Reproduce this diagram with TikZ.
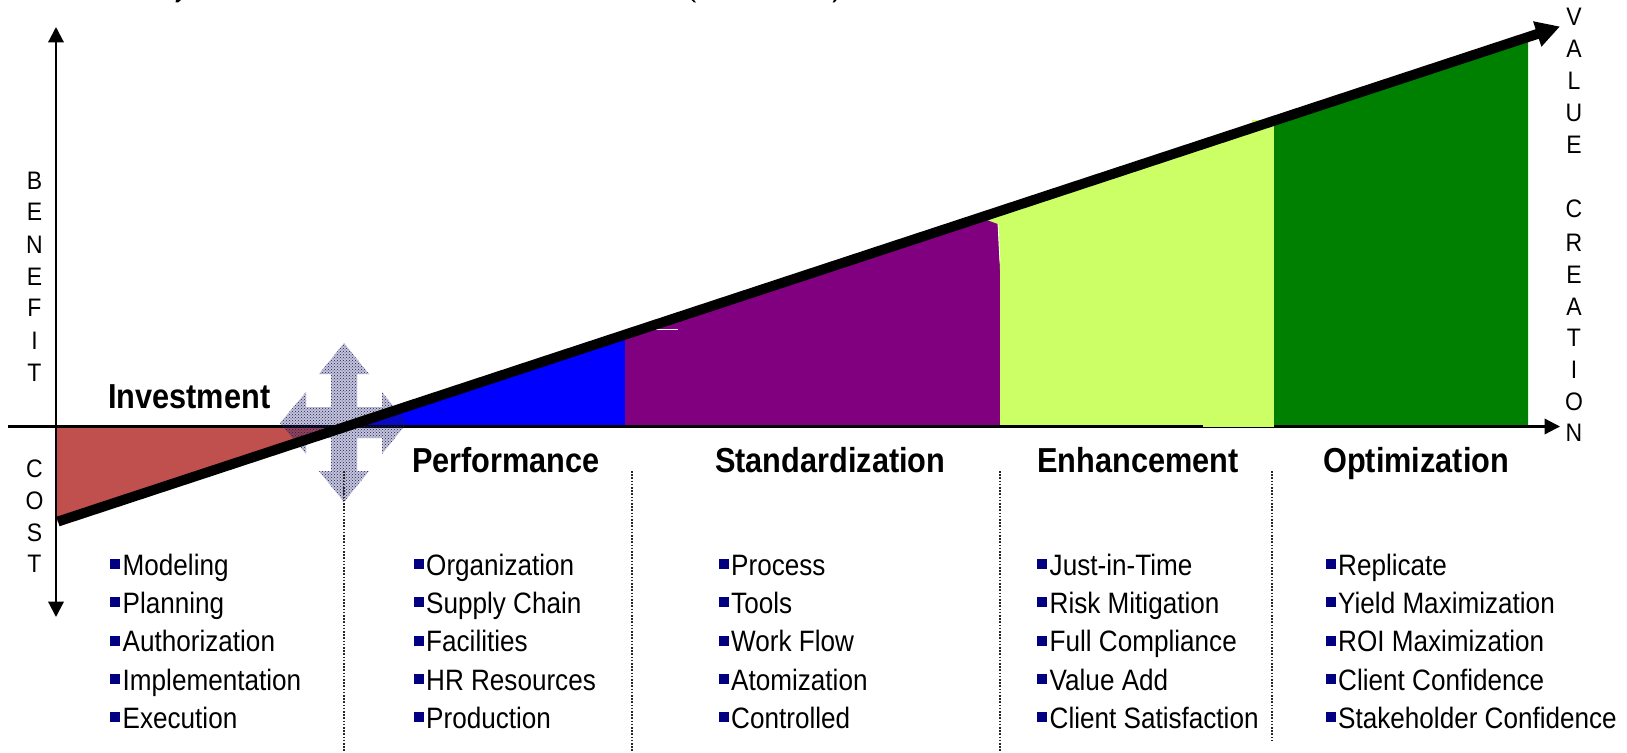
\documentclass[tikz,border=0pt]{standalone}
\usepackage{fontspec}
\setmainfont{Liberation Sans}
\usetikzlibrary{patterns,arrows.meta}
\definecolor{costred}{HTML}{C0504D}
\definecolor{perfblue}{HTML}{0000FF}
\definecolor{stdpurple}{HTML}{800080}
\definecolor{enhlime}{HTML}{CCFF66}
\definecolor{optgreen}{HTML}{008000}
\definecolor{bulletnavy}{HTML}{000080}
\definecolor{crossink}{HTML}{1A1A66}
\newcommand{\vs}[1]{\scalebox{1}[1.13]{#1}}
\newcommand{\vl}[1]{\scalebox{1}[1.1]{#1}}
\newcommand{\crosspath}{(344,343) -- (369,374) -- (357,374) -- (357,407) -- (382,407) -- (382,392) -- (407,423) -- (382,454) -- (382,438) -- (357,438) -- (357,471) -- (369,471) -- (344,502) -- (319,471) -- (331,471) -- (331,438) -- (306,438) -- (306,454) -- (280,423) -- (306,392) -- (306,407) -- (331,407) -- (331,374) -- (319,374) -- cycle}
\tikzset{
  axis/.style={line width=2.2pt,-{Triangle[length=15.5pt,width=15.5pt]}},
  biaxis/.style={line width=2.2pt,{Triangle[length=15.5pt,width=15.5pt]}-{Triangle[length=15.5pt,width=15.5pt]}},
  divider/.style={line width=1.6pt,dash pattern=on 1.6pt off 1.6pt,black!85},
  heading/.style={anchor=base west,inner sep=0pt,font=\fontsize{30.7}{30.7}\selectfont\bfseries},
  item/.style={anchor=base west,inner sep=0pt,font=\fontsize{26.1}{26.1}\selectfont},
  bulletmark/.style={fill=bulletnavy,draw=none,minimum size=10pt,inner sep=0pt},
  vletter/.style={inner sep=0pt,font=\fontsize{23}{23}\selectfont},
}
\begin{document}
\begin{tikzpicture}[x=1pt,y=-1pt]
\useasboundingbox (0,0) rectangle (1627,752);
\coordinate (start) at (58,521.5);
\coordinate (tip) at (1560,26.5);
\coordinate (xo) at (8,426.5);
\coordinate (xe) at (1560,426.5);
\coordinate (yt) at (56,27);
\coordinate (yb) at (56,617);
% cropped descenders of the cut-off title
\fill (176,0) -- (181,0) -- (178,2.5) -- (175.5,2.5) -- cycle;
\fill (691.5,0) -- (694,0) -- (696,2.5) -- (694,2.5) -- cycle;
\fill (834,0) -- (836.5,0) -- (834.5,2.5) -- (832.5,2.5) -- cycle;
% fills
\fill[costred] (56,426.5) -- (345,426.5) -- (56,522) -- cycle;
\fill[perfblue] (347,426.5) -- (625,335) -- (625,426.5) -- cycle;
\fill[stdpurple] (625,335) -- (1000,215) -- (1000,426.5) -- (625,426.5) -- cycle;
\fill[enhlime] (987,220) -- (1274,123) -- (1274,426.5) -- (1000,426.5) -- (1000,270) -- (998,224) -- cycle;
\fill[enhlime] (1252,120) -- (1270,120) -- (1270,135) -- (1252,135) -- cycle;
\fill[optgreen] (1274,122) -- (1528,42) -- (1528,426.5) -- (1274,426.5) -- cycle;
\draw[white,line width=1pt] (653,329) -- (678,329);
\draw[white,line width=.8pt] (998,224) -- (1000,262);
% axes
\draw[axis] (xo) -- (xe);
\draw[biaxis] (yt) -- (yb);
\fill[enhlime] (1203,425) rectangle (1274,427);
% cross
\path[fill=crossink,fill opacity=.26] \crosspath;
\path[pattern=crosshatch dots,pattern color=crossink] \crosspath;
% dividers
\coordinate (d1a) at (344,471);\coordinate (d1b) at (344,752);
\coordinate (d2a) at (632,471);\coordinate (d2b) at (632,752);
\coordinate (d3a) at (1000,471);\coordinate (d3b) at (1000,752);
\coordinate (d4a) at (1272,471);\coordinate (d4b) at (1272,740);
\draw[divider] (d1a) -- (d1b);
\draw[divider] (d2a) -- (d2b);
\draw[divider] (d3a) -- (d3b);
\draw[divider] (d4a) -- (d4b);
% main line
\draw[line width=10pt,-{Triangle[length=24pt,width=25pt]}] (start) -- (tip);
% headings
\node[heading] (hinv) at (108,408.5) {\vs{Investment}};
\node[heading] (hperf) at (412,472) {\vs{Performance}};
\node[heading] (hstd) at (715,472) {\vs{Standardization}};
\node[heading] (henh) at (1037,472) {\vs{Enhancement}};
\node[heading] (hopt) at (1323,472) {\vs{Optimization}};
% lists
\foreach \tx/\bx/\name/\a/\b/\c/\d/\e in {
 122.5/115/i/Modeling/Planning/Authorization/Implementation/Execution,
 426/418.5/p/Organization/Supply Chain/Facilities/HR Resources/Production,
 731/723.5/s/Process/Tools/Work Flow/Atomization/Controlled,
 1049.5/1042/e/Just-in-Time/Risk Mitigation/Full Compliance/Value Add/Client Satisfaction,
 1338/1330.5/o/Replicate/Yield Maximization/ROI Maximization/Client Confidence/Stakeholder Confidence}{
  \foreach \yy/\txt/\k in {575/\a/1,613/\b/2,651.5/\c/3,690/\d/4,728/\e/5}{
    \node[bulletmark] (b\name\k) at (\bx,\yy-11) {};
    \node[item] (t\name\k) at (\tx,\yy) {\vs{\txt}};
  }
}
% vertical letters
\foreach \l/\yy/\k in {B/181/1,E/212/2,N/245/3,E/277/4,F/308/5,I/341/6,T/373/7}
  \node[vletter] (ben\k) at (34.5,\yy) {\vl{\l}};
\foreach \l/\yy/\k in {C/469/1,O/501/2,S/533/3,T/564/4}
  \node[vletter] (cost\k) at (34.5,\yy) {\vl{\l}};
\foreach \l/\yy/\k in {V/17/1,A/49/2,L/81/3,U/113/4,E/145/5,C/209/6,R/243/7,E/275/8,A/307/9,T/338/10,I/370/11,O/402/12,N/433/13}
  \node[vletter] (val\k) at (1574,\yy) {\vl{\l}};
\end{tikzpicture}
\end{document}
